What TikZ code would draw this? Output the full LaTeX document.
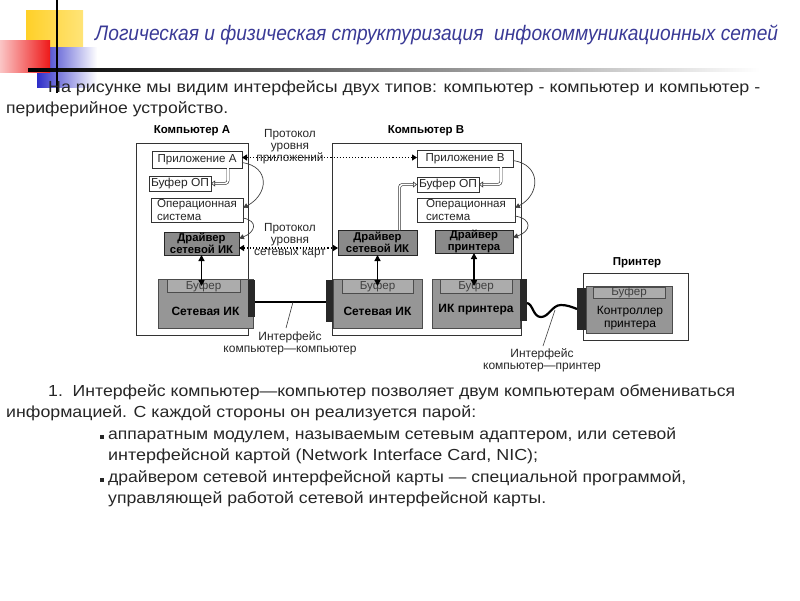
\documentclass[tikz,border=0pt]{standalone}
\usepackage{fontspec}
\setmainfont{Liberation Sans}
\usetikzlibrary{arrows.meta,calc}
\definecolor{titleblue}{RGB}{58,58,150}
\definecolor{drvgray}{RGB}{138,138,138}
\definecolor{nicgray}{RGB}{150,150,150}
\definecolor{bufgray}{RGB}{172,172,172}
\definecolor{portc}{RGB}{40,40,40}
\definecolor{ycol}{RGB}{255,208,40}
\definecolor{ycol2}{RGB}{255,228,120}
\definecolor{rcol}{RGB}{238,25,25}
\definecolor{bcol}{RGB}{45,45,200}
\newcommand\fitw[2]{\resizebox{#1pt}{\height}{#2}}
\begin{document}
\begin{tikzpicture}[x=1pt,y=-1pt,
 box/.style 2 args={minimum width=#1pt, minimum height=#2pt, inner sep=0pt, outer sep=0pt},
 outerbox/.style={draw=black!80, line width=0.8pt},
 wbox/.style={draw=black!80, line width=0.8pt, fill=white, font=\fontsize{11.6}{12.3}\selectfont, text=black!85, align=left},
 dbox/.style={draw=black!85, line width=0.8pt, fill=drvgray, font=\fontsize{11.3}{11.8}\selectfont\bfseries, align=center},
 nbox/.style={draw=black!70, line width=0.8pt, fill=nicgray},
 bbox/.style={draw=black!70, line width=0.7pt, fill=bufgray, font=\fontsize{11.6}{12}\selectfont, text=black!75},
 portbox/.style={fill=portc},
 hdr/.style={font=\fontsize{11.5}{12}\selectfont\bfseries, inner sep=0pt},
 lbl/.style={font=\fontsize{11.8}{12}\selectfont, text=black!85, align=center, inner sep=0pt},
 ilbl/.style={font=\fontsize{12}{12.5}\selectfont, text=black!85, align=center, inner sep=0pt},
 blbl/.style={font=\fontsize{12}{13}\selectfont\bfseries, align=center, inner sep=0pt},
 body/.style={font=\fontsize{16}{18}\selectfont, text=black!85, anchor=mid west, inner sep=0pt},
 curv/.style={draw=black!75, line width=0.7pt, -{Triangle[width=5pt,length=5pt]}},
 dotarr/.style={line width=1.1pt, dotted, {Triangle[width=6pt,length=5pt]}-{Triangle[width=6pt,length=5pt]}},
 dblarr/.style={draw=black!80, double=white, double distance=1.6pt, line width=0.6pt, rounded corners=3pt, -{Triangle[open,width=6pt,length=4pt]}},
 vert/.style={line width=1.3pt, {Triangle[width=6pt,length=6pt]}-{Triangle[width=6pt,length=6pt]}},
 cable/.style={line width=2.6pt},
 leader/.style={line width=0.6pt, draw=black!80}
]
\useasboundingbox (0,0) rectangle (800,600);

% decoration
\shade[left color=ycol, right color=ycol2] (26,10) rectangle (83,62);
\shade[left color=bcol, right color=white] (37,47) rectangle (97,87);
\shade[left color=rcol!25!white, right color=rcol] (0,40) rectangle (50,72);
\shade[left color=black, right color=white] (28,68.5) rectangle (760,71.5);
\fill[black] (56,0) rectangle (58,93);

% title and intro text
\node[font=\fontsize{21}{24}\selectfont\itshape, text=titleblue, anchor=mid west, inner sep=0pt] (title) at (95,38)
  {\fitw{683}{Логическая и физическая структуризация\ \ инфокоммуникационных сетей}};
\node[body] (t1) at (48,90) {\fitw{712}{На рисунке мы видим интерфейсы двух типов: компьютер - компьютер и компьютер -}};
\node[body] (t2) at (6,111) {\fitw{222}{периферийное устройство.}};

% outer boxes
\node[outerbox, box={112}{192}] (compA) at (192,239) {};
\node[outerbox, box={189}{192}] (compB) at (426.5,239) {};
\node[outerbox, box={105}{67}] (prn) at (635.5,306.5) {};
\node[hdr] (compAt) at (192,131) {Компьютер А};
\node[hdr] (compBt) at (426,131) {Компьютер В};
\node[hdr] (prnt) at (637,263) {Принтер};

% computer A
\node[wbox, box={90}{17}] (appA) at (197,159.5) {Приложение А};
\node[wbox, box={62}{15}] (bufA) at (180,183.5) {\fitw{58}{Буфер ОП}};
\node[wbox, box={92}{24}] (osA) at (197,210) {Операционная\\система};
\node[dbox, box={75}{23}] (drvA) at (201.5,243.5) {Драйвер\\сетевой ИК};
\node[nbox, box={95}{49}] (nicA) at (205.5,303.5) {};
\node[bbox, box={73}{13}] (nbufA) at (203.5,286) {Буфер};
\node[blbl] (nicAt) at (205.5,311) {Сетевая ИК};
\node[portbox, box={7}{37}] (portA) at (251.5,298.5) {};

% computer B
\node[wbox, box={96}{17}] (appB) at (465,158.5) {Приложение В};
\node[wbox, box={62}{15}] (bufB) at (448,184.5) {\fitw{58}{Буфер ОП}};
\node[wbox, box={98}{24}] (osB) at (466,210) {Операционная\\система};
\node[dbox, box={79}{25}] (drvB) at (377.5,242.5) {Драйвер\\сетевой ИК};
\node[dbox, box={78}{23}] (prdB) at (474,241.5) {Драйвер\\принтера};
\node[nbox, box={89}{49}] (nicB) at (377.5,303.5) {};
\node[bbox, box={71}{14}] (nbufB) at (377.5,286) {Буфер};
\node[blbl] (nicBt) at (377.5,311) {Сетевая ИК};
\node[portbox, box={7}{42}] (portB) at (329.5,301) {};
\node[nbox, box={88}{49}] (ikp) at (476,303.5) {};
\node[bbox, box={72}{14}] (ibuf) at (476,286) {Буфер};
\node[blbl] (ikpt) at (476,310) {ИК принтера};
\node[portbox, box={7}{42}] (portP) at (523.5,300) {};

% printer
\node[nbox, box={86}{47}] (ctrl) at (629,309.5) {};
\node[bbox, box={72}{11}] (cbuf) at (629,292.5) {Буфер};
\node[blbl, font=\fontsize{12}{13}\selectfont] (ctrlt) at (630,318.5) {Контроллер\\принтера};
\node[portbox, box={9}{42}] (portC) at (581.5,309) {};

% protocol labels
\node[lbl] (protApp) at (290,147) {Протокол\\уровня\\приложений};
\node[lbl] (protNet) at (290,241) {Протокол\\уровня\\сетевых карт};

% protocol arrows
\draw[dotarr] ($(appA.east)+(0,-2)$) -- ($(appB.west)+(0,-1)$);
\draw[dotarr] ($(drvA.east)+(0,4.5)$) -- ($(drvB.west)+(0,5.5)$);

% curved arrows
\draw[curv] ($(appA.east)+(0,3)$) .. controls +(28,4) and +(26,-14) .. ($(osA.east)+(0,-2)$);
\draw[curv] ($(osA.east)+(0,8)$) .. controls +(16,3) and +(16,-6) .. ($(drvA.east)+(0,-5)$);
\draw[curv] ($(appB.east)+(0,2)$) .. controls +(28,4) and +(26,-14) .. ($(osB.east)+(0,-2)$);
\draw[curv] ($(osB.east)+(0,6)$) .. controls +(18,3) and +(18,-6) .. ($(prdB.east)+(0,-4)$);

% double (hollow) arrows
\draw[dblarr] ([xshift=31pt]appA.south) |- (bufA.east);
\draw[dblarr] ([xshift=36pt]appB.south) |- (bufB.east);
\draw[dblarr] ([xshift=22pt]drvB.north) |- (bufB.west);

% vertical arrows
\draw[vert] (drvA.south) -- (drvA.south |- nbufA.center);
\draw[vert] (drvB.south) -- (drvB.south |- nbufB.center);
\draw[vert] (prdB.south) -- (prdB.south |- ibuf.center);

% cables
\draw[cable] ($(portA.east)+(0,3.5)$) -- ($(portB.west)+(0,1)$);
\coordinate (w1) at (541,317);
\coordinate (w2) at (561,305);
\draw[cable, line width=2.2pt] ($(portP.east)+(0,3)$) .. controls (533,304) and (533,317) .. (w1)
   .. controls (549,317) and (552,305) .. (w2) .. controls (567,305) and (572,307) .. (portC.west);

% interface labels
\node[ilbl] (ifc1) at (290,343.5) {Интерфейс\\компьютер—компьютер};
\node[ilbl] (ifc2) at (542,360.5) {Интерфейс\\компьютер—принтер};
\coordinate (l1a) at (293,302);
\coordinate (l1b) at (286,328);
\draw[leader] (l1a) -- (l1b);
\coordinate (l2a) at (555,310);
\coordinate (l2b) at (543,346);
\draw[leader] (l2a) -- (l2b);

% bottom text
\node[body] (b1) at (48,394) {\fitw{687}{1.\ \ Интерфейс компьютер—компьютер позволяет двум компьютерам обмениваться}};
\node[body] (b2) at (6,415) {\fitw{470}{информацией. С каждой стороны он реализуется парой:}};
\node[body] (b3) at (100,437) {\rule[1pt]{3.5pt}{3.5pt}};
\node[body] (b3t) at (108,437) {\fitw{568}{аппаратным модулем, называемым сетевым адаптером, или сетевой}};
\node[body] (b4) at (108,458) {\fitw{430}{интерфейсной картой (Network Interface Card, NIC);}};
\node[body] (b5) at (100,480) {\rule[1pt]{3.5pt}{3.5pt}};
\node[body] (b5t) at (108,480) {\fitw{578}{драйвером сетевой интерфейсной карты — специальной программой,}};
\node[body] (b6) at (108,501) {\fitw{438}{управляющей работой сетевой интерфейсной карты.}};
\end{tikzpicture}
\end{document}
